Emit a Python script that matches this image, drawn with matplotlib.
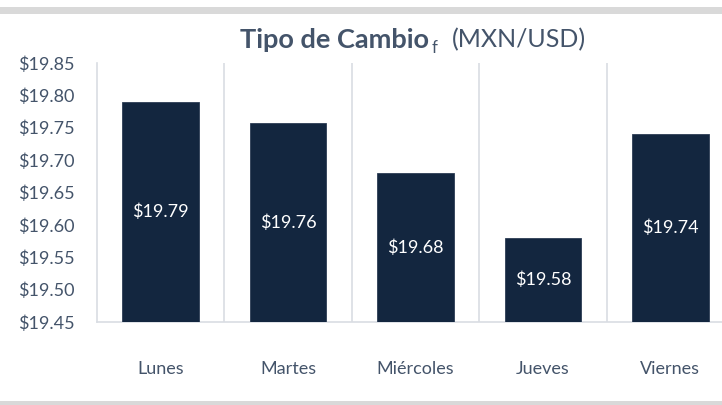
import matplotlib
matplotlib.use("Agg")
import matplotlib.pyplot as plt
from matplotlib.patches import Rectangle
from matplotlib.transforms import offset_copy

# datos del tipo de cambio
dias = ["Lunes", "Martes", "Miércoles", "Jueves", "Viernes"]
tipo_cambio = [19.79, 19.757, 19.68, 19.58, 19.74]
etiquetas = ["$19.79", "$19.76", "$19.68", "$19.58", "$19.74"]
y_ticks = [19.45, 19.50, 19.55, 19.60, 19.65, 19.70, 19.75, 19.80, 19.85]

plt.rcParams["font.family"] = ["Lato", "DejaVu Sans"]
texto = "#44546a"
barra = "#13263f"
rejilla = "#d9dde3"

W, H = 722, 405
fig = plt.figure(figsize=(W / 100, H / 100), dpi=100)
fig.patch.set_facecolor("white")

# bandas grises arriba y abajo
fig.add_artist(Rectangle((0, 1 - 14 / H), 1, 7 / H, transform=fig.transFigure,
                         color="#d9d9d9", lw=0))
fig.add_artist(Rectangle((0, 0), 1, 4 / H, transform=fig.transFigure,
                         color="#d9d9d9", lw=0))

# el area del grafico se sale un poco por la derecha
x0, x1, ytop, ybot = 97, 734, 63, 322
ax = fig.add_axes([x0 / W, 1 - ybot / H, (x1 - x0) / W, (ybot - ytop) / H])

x = range(len(dias))
bars = ax.bar(x, [v - y_ticks[0] for v in tipo_cambio], bottom=y_ticks[0],
              width=0.6, color=barra, edgecolor="#2c3d55", linewidth=0.6, zorder=3)
for b, lab in zip(bars, etiquetas):
    ax.text(b.get_x() + b.get_width() / 2, b.get_y() + b.get_height() / 2, lab,
            ha="center", va="center", color="white", fontsize=13, zorder=4)

ax.set_xlim(-0.5, len(dias) - 0.5)
ax.set_ylim(y_ticks[0], y_ticks[-1])
ax.set_yticks(y_ticks)
ax.set_yticklabels(["${:.2f}".format(v) for v in y_ticks])
ax.set_xticks(list(x))
ax.set_xticklabels(dias)
ax.tick_params(length=0, labelsize=13, colors=texto)
ax.tick_params(axis="y", pad=16)
ax.tick_params(axis="x", pad=28)

for i in range(1, len(dias)):
    ax.axvline(i - 0.5, color=rejilla, lw=1.2, zorder=1)

for s in ["top", "right"]:
    ax.spines[s].set_visible(False)
for s in ["left", "bottom"]:
    ax.spines[s].set_color(rejilla)
    ax.spines[s].set_linewidth(1.2)

# titulo: parte en negrita, subindice y unidades
t1 = fig.text(240 / W, 1 - 40 / H, "Tipo de Cambio", fontsize=19.5, fontweight="bold",
              color=texto, ha="left", va="center")
fig.canvas.draw()
r = fig.canvas.get_renderer()
bb = t1.get_window_extent(r)
t2 = fig.text(bb.x1 / W, 1 - 40 / H, "f", fontsize=12, color=texto,
              ha="left", va="top")
t2.set_transform(offset_copy(fig.transFigure, fig=fig, x=1.5, y=0, units="points"))
fig.canvas.draw()
bb2 = t2.get_window_extent(r)
fig.text(bb2.x1 / W, 1 - 40 / H, "(MXN/USD)", fontsize=18, color=texto,
         ha="left", va="center",
         transform=offset_copy(fig.transFigure, fig=fig, x=11, y=0, units="points"))

fig.savefig("out.png", dpi=100)
